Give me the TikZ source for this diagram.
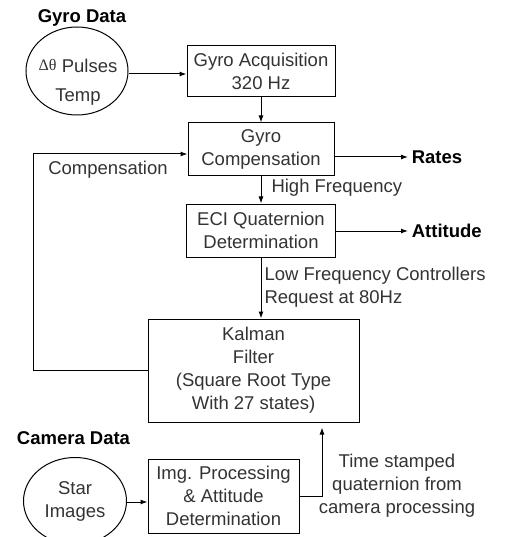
\documentclass[tikz,border=0pt]{standalone}
\usepackage{fontspec}
\setmainfont{Liberation Sans}
\newfontfamily\greekserif{Liberation Serif}
\usetikzlibrary{arrows.meta,shapes.geometric}

\begin{document}
\begin{tikzpicture}[x=1pt,y=-1pt,line width=1pt,>={Latex[length=7pt,width=5pt]},
  font=\fontsize{18.5}{23}\selectfont,
  blk/.style={draw,rectangle,align=center,inner sep=0pt,text=black!80},
  src/.style={draw,ellipse,align=center,inner sep=0pt,text=black!80},
  head/.style={font=\fontsize{18.5}{23}\selectfont\bfseries},
  note/.style={text=black!80,inner sep=0pt}]
\useasboundingbox (0,0) rectangle (507,537);
% gyro side
\node[head] (gyrohead) at (82,18) {Gyro Data};
\node[src,minimum width=102pt,minimum height=88pt] (gyro) at (77,71) {};
\node[note,align=center] (gyrotxt) at (78,82)
  {\raisebox{2pt}{\greekserif\fontsize{16}{16}\selectfont Δθ} Pulses\\[6pt]Temp};
\node[blk,minimum width=148pt,minimum height=51pt] (acq) at (261,71.5) {Gyro Acquisition\\320 Hz};
\node[blk,minimum width=146pt,minimum height=53pt] (comp) at (261,149.5) {Gyro\\Compensation};
\node[blk,minimum width=149pt,minimum height=53pt] (eci) at (261,230.5) {ECI Quaternion\\Determination};
\node[blk,minimum width=211pt,minimum height=103pt] (kf) at (253.5,370.5)
  {Kalman\\Filter\\(Square Root Type\\With 27 states)};
\node[head,anchor=west] (rates) at (408,157) {Rates};
\node[head,anchor=west] (att) at (408,231) {Attitude};
% camera side
\node[head] (camhead) at (73.5,438) {Camera Data};
\node[src,minimum width=103pt,minimum height=87pt] (star) at (75,501) {Star\\Images};
\node[blk,minimum width=151pt,minimum height=74pt] (img) at (223.5,496)
  {Img. Processing\\\& Attitude\\Determination};
% labels
\node[note,anchor=west] (hf) at (271,188) {High Frequency};
\node[note,anchor=west,align=left] (lf) at (264,287.5) {Low Frequency Controllers\\Request at 80Hz};
\node[note] (cmp) at (108,170) {Compensation};
\node[note,align=center] (ts) at (397,485.5) {Time stamped\\quaternion from\\camera processing};
\coordinate (fb) at (33,154);
\coordinate (tsc) at (322,497);
% connectors
\draw[->] (gyro.east |- 0,74) -- (acq.west |- 0,74);
\draw[->] (acq.south) -- (comp.north);
\draw[->] (comp.south) -- (eci.north);
\draw[->] (eci.south) -- (eci.south |- kf.north);
\draw[->] (comp.east |- rates) -- (rates.west);
\draw[->] (eci.east |- att) -- (att.west);
\draw[->] (kf.west) -| (fb) -- (comp.west |- fb);
\draw[->] (star.east |- 0,502) -- (img.west |- 0,502);
\draw[->,shorten >=5pt] (img.east) -| (kf.south -| tsc);
\end{tikzpicture}
\end{document}
